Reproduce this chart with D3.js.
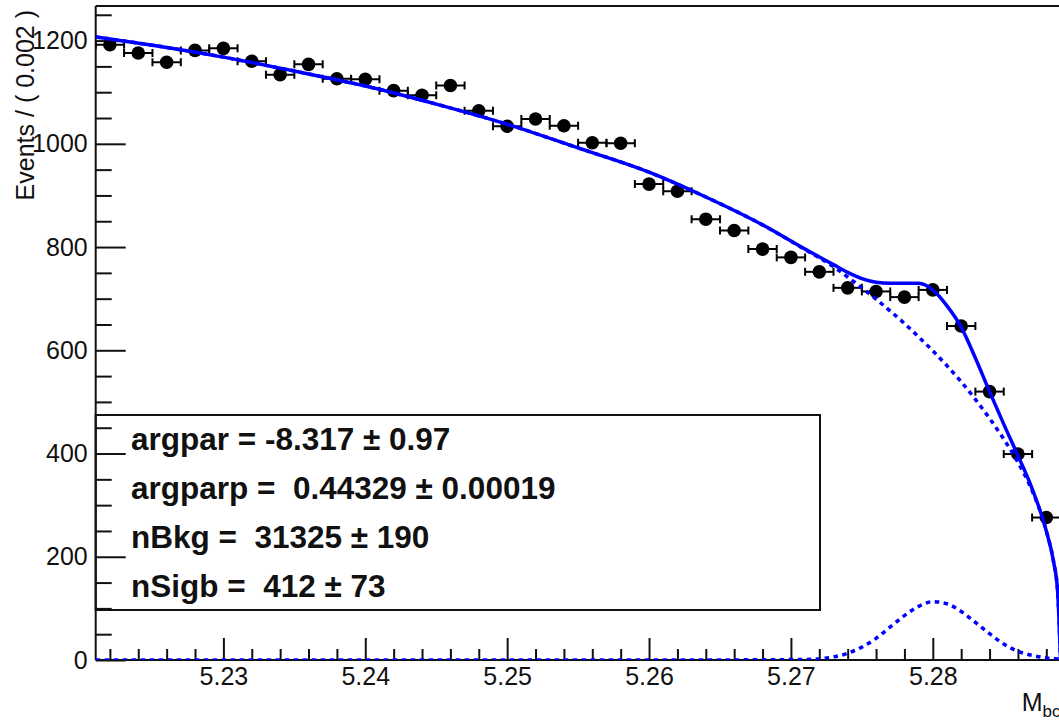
<!DOCTYPE html>
<html>
<head>
<meta charset="utf-8">
<script src="https://cdn.jsdelivr.net/npm/d3@7"></script>
<style>
  html, body { margin: 0; padding: 0; background: #fff; }
  svg { display: block; }
  text { font-family: "Liberation Sans", Arial, Helvetica, sans-serif; }
</style>
</head>
<body>
<svg id="chart" width="1059" height="721"></svg>
<script>
// Mbc histogram: bin centres (GeV) and event counts per 0.002 GeV bin
const binCenters = [5.222, 5.224, 5.226, 5.228, 5.230, 5.232, 5.234, 5.236, 5.238, 5.240,
                    5.242, 5.244, 5.246, 5.248, 5.250, 5.252, 5.254, 5.256, 5.258, 5.260,
                    5.262, 5.264, 5.266, 5.268, 5.270, 5.272, 5.274, 5.276, 5.278, 5.280,
                    5.282, 5.284, 5.286, 5.288];
const events = [1192, 1176, 1158, 1181, 1185, 1160, 1134, 1154, 1126, 1125,
                1103, 1094, 1113, 1064, 1034, 1048, 1035, 1002, 1001, 922,
                908, 854, 832, 796, 780, 752, 721, 714, 703, 717,
                647, 520, 399, 276];
const binHalfWidth = 0.001;

// Fit curves sampled along Mbc: total model, ARGUS background, Gaussian signal
const fitMbc = [5.221, 5.225, 5.230, 5.235, 5.240, 5.245, 5.250, 5.255, 5.260, 5.264,
                5.268, 5.271, 5.273, 5.274, 5.275, 5.276, 5.277, 5.278, 5.279, 5.280,
                5.281, 5.282, 5.283, 5.284, 5.285, 5.286, 5.287, 5.288, 5.2885, 5.2888, 5.289];
const fitTotal = [1207, 1191, 1168, 1141, 1112, 1077, 1038, 992, 945, 897,
                  843, 796, 766, 751, 739, 732, 730, 730, 730, 717,
                  686, 645, 585, 520, 457, 396, 332, 250, 192, 132, 0];
const fitBkg = [1207, 1191, 1168, 1141, 1112, 1077, 1038, 992, 945, 897,
                843, 795, 762, 742, 721, 699, 676, 652, 626, 599,
                570, 539, 505, 468, 428, 383, 328, 250, 192, 132, 0];
const fitSig = [0, 0, 0, 0, 0, 0, 0, 0, 0, 0,
                0.5, 1, 6, 13, 25, 42, 64, 86, 104, 113,
                109, 94, 73, 51, 31, 17, 9, 4, 2.5, 2, 1.5];

// Axis ticks
const xMajorTicks = [5.23, 5.24, 5.25, 5.26, 5.27, 5.28];
const xMinorTicks = [5.222, 5.224, 5.226, 5.228, 5.232, 5.234, 5.236, 5.238,
                     5.242, 5.244, 5.246, 5.248, 5.252, 5.254, 5.256, 5.258,
                     5.262, 5.264, 5.266, 5.268, 5.272, 5.274, 5.276, 5.278,
                     5.282, 5.284, 5.286, 5.288];
const yMajorTicks = [0, 200, 400, 600, 800, 1000, 1200];
const yMinorTicks = [50, 100, 150, 250, 300, 350, 450, 500, 550, 650, 700, 750,
                     850, 900, 950, 1050, 1100, 1150, 1250];

// Fit parameter box
const fitParams = [
  "argpar = -8.317 \u00B1 0.97",
  "argparp =  0.44329 \u00B1 0.00019",
  "nBkg =  31325 \u00B1 190",
  "nSigb =  412 \u00B1 73"
];

const xTitle = "M";
const xTitleSub = "bc";
const yTitle = "Events / ( 0.002 )";

// ---- layout ----
const frame = { left: 95.7, top: 6, right: 1060.5, bottom: 660 };
const svg = d3.select("#chart");

const x = d3.scaleLinear().domain([5.221, 5.289]).range([frame.left, frame.right]);
const y = d3.scaleLinear().domain([0, 1267]).range([frame.bottom, frame.top]);

svg.append("defs").append("clipPath").attr("id", "plotClip")
  .append("rect")
  .attr("x", frame.left).attr("y", frame.top)
  .attr("width", frame.right - frame.left).attr("height", frame.bottom - frame.top);

// ---- axes (ticks pointing into the frame) ----
const axisColor = "#111";

const yMajor = svg.append("g").attr("transform", `translate(${frame.left},0)`)
  .call(d3.axisLeft(y).tickValues(yMajorTicks).tickSize(-30).tickSizeOuter(0).tickPadding(8)
        .tickFormat(d3.format("d")));
const yMinor = svg.append("g").attr("transform", `translate(${frame.left},0)`)
  .call(d3.axisLeft(y).tickValues(yMinorTicks).tickSize(-16).tickSizeOuter(0).tickFormat(""));
const xMajor = svg.append("g").attr("transform", `translate(0,${frame.bottom})`)
  .call(d3.axisBottom(x).tickValues(xMajorTicks).tickSize(-22).tickSizeOuter(0).tickPadding(7)
        .tickFormat(d3.format(".2f")));
const xMinor = svg.append("g").attr("transform", `translate(0,${frame.bottom})`)
  .call(d3.axisBottom(x).tickValues(xMinorTicks).tickSize(-11).tickSizeOuter(0).tickFormat(""));

[yMajor, yMinor, xMajor, xMinor].forEach(g => {
  g.select(".domain").remove();
  g.selectAll(".tick line").attr("stroke", axisColor).attr("stroke-width", 2);
  g.selectAll(".tick text").attr("fill", "#111").style("font-size", "25px")
    .style("font-family", "'Liberation Sans', Arial, sans-serif");
});

// ---- frame ----
const frameG = svg.append("g").attr("stroke", axisColor).attr("stroke-width", 2).attr("fill", "none");
frameG.append("line").attr("x1", frame.left).attr("x2", frame.right).attr("y1", frame.top).attr("y2", frame.top);
frameG.append("line").attr("x1", frame.left).attr("x2", frame.right).attr("y1", frame.bottom).attr("y2", frame.bottom);
frameG.append("line").attr("x1", frame.left).attr("x2", frame.left).attr("y1", frame.top).attr("y2", frame.bottom);
frameG.append("line").attr("x1", frame.right).attr("x2", frame.right).attr("y1", frame.top).attr("y2", frame.bottom);

// ---- axis titles ----
svg.append("text")
  .attr("transform", `translate(34,10) rotate(-90)`)
  .attr("text-anchor", "end")
  .attr("fill", "#111")
  .style("font-size", "25px")
  .text(yTitle);

const xt = svg.append("text")
  .attr("x", frame.right).attr("y", 711)
  .attr("text-anchor", "end")
  .attr("fill", "#111")
  .style("font-size", "25px");
xt.append("tspan").text(xTitle);
xt.append("tspan").attr("dy", 6).style("font-size", "17px").text(xTitleSub);

// ---- data points with horizontal bin-width error bars ----
const data = binCenters.map((c, i) => ({ c, n: events[i] }));
const pts = svg.append("g").attr("clip-path", "url(#plotClip)");
const capHalf = 4;
pts.selectAll("line.xerr").data(data).join("line").attr("class", "xerr")
  .attr("x1", d => x(d.c - binHalfWidth)).attr("x2", d => x(d.c + binHalfWidth))
  .attr("y1", d => y(d.n)).attr("y2", d => y(d.n))
  .attr("stroke", "#000").attr("stroke-width", 2);
pts.selectAll("line.capL").data(data).join("line").attr("class", "capL")
  .attr("x1", d => x(d.c - binHalfWidth)).attr("x2", d => x(d.c - binHalfWidth))
  .attr("y1", d => y(d.n) - capHalf).attr("y2", d => y(d.n) + capHalf)
  .attr("stroke", "#000").attr("stroke-width", 2);
pts.selectAll("line.capR").data(data).join("line").attr("class", "capR")
  .attr("x1", d => x(d.c + binHalfWidth)).attr("x2", d => x(d.c + binHalfWidth))
  .attr("y1", d => y(d.n) - capHalf).attr("y2", d => y(d.n) + capHalf)
  .attr("stroke", "#000").attr("stroke-width", 2);
pts.selectAll("circle").data(data).join("circle")
  .attr("cx", d => x(d.c)).attr("cy", d => y(d.n)).attr("r", 6.8)
  .attr("fill", "#000");

// ---- fit curves ----
const curves = svg.append("g").attr("clip-path", "url(#plotClip)").attr("fill", "none");
const lineOf = vals => d3.line()
  .x((d, i) => x(fitMbc[i]))
  .y((d, i) => y(vals[i]))
  .curve(d3.curveMonotoneX)(vals);

curves.append("path").attr("d", lineOf(fitTotal))
  .attr("stroke", "#0000ff").attr("stroke-width", 3.5);
curves.append("path").attr("d", lineOf(fitBkg))
  .attr("stroke", "#0000ff").attr("stroke-width", 3.5).attr("stroke-dasharray", "4.5 4.5");
curves.append("path").attr("d", lineOf(fitSig))
  .attr("stroke", "#0000ff").attr("stroke-width", 3.5).attr("stroke-dasharray", "4.5 4.5");

// ---- fit parameter box ----
const box = { x0: frame.left, x1: 820, y0: 415, y1: 610 };
svg.append("rect")
  .attr("x", box.x0).attr("y", box.y0)
  .attr("width", box.x1 - box.x0).attr("height", box.y1 - box.y0)
  .attr("fill", "none").attr("stroke", "#111").attr("stroke-width", 2);
const rowY = d3.scalePoint().domain(d3.range(fitParams.length)).range([450, 597]);
svg.append("g").selectAll("text").data(fitParams).join("text")
  .attr("x", 131).attr("y", (d, i) => rowY(i))
  .attr("fill", "#111")
  .style("font-size", "31.5px").style("font-weight", "bold")
  .attr("xml:space", "preserve")
  .style("white-space", "pre")
  .text(d => d);
</script>
</body>
</html>
